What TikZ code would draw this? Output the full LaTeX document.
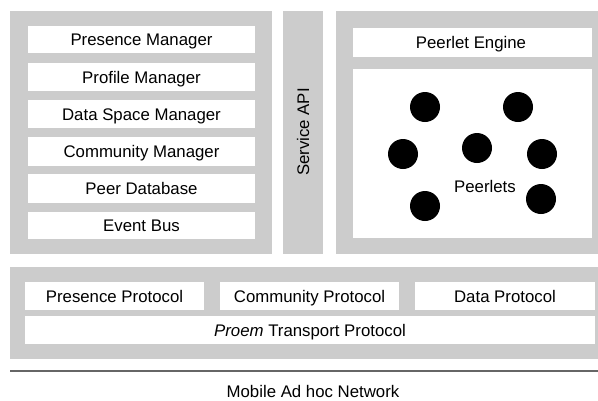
\documentclass[tikz,border=0pt]{standalone}
\usepackage{fontspec}
\setmainfont{Liberation Sans}
\definecolor{panelgray}{HTML}{CCCCCC}
\begin{document}
\begin{tikzpicture}[x=1pt,y=-1pt,
  panel/.style={fill=panelgray,draw=none},
  wbox/.style={fill=white,draw=none},
  lbl/.style={font=\fontsize{16.8}{19}\selectfont,inner sep=0pt,text height=12pt,text depth=0pt},
  peerlet/.style={circle,fill=black,minimum size=30pt,inner sep=0pt}]
\useasboundingbox (0,0) rectangle (598,400);
% panels
\fill[panel] (10,11) rectangle (272,254);
\fill[panel] (283,11) rectangle (323,254);
\fill[panel] (336,11) rectangle (598,254);
\fill[panel] (10,267) rectangle (598,359);
% left boxes
\fill[wbox] (28,26) rectangle (255,53);
\node[lbl] (pm) at (141.5,39.5) {Presence Manager};
\fill[wbox] (28,63) rectangle (255,91);
\node[lbl] (prm) at (141.5,77) {Profile Manager};
\fill[wbox] (28,100) rectangle (255,128);
\node[lbl] (dsm) at (141.5,114) {Data Space Manager};
\fill[wbox] (28,137) rectangle (255,166);
\node[lbl] (cm) at (141.5,151.5) {Community Manager};
\fill[wbox] (28,174) rectangle (255,203);
\node[lbl] (pdb) at (141.5,188.5) {Peer Database};
\fill[wbox] (28,212) rectangle (255,239);
\node[lbl] (eb) at (141.5,225.5) {Event Bus};
% service api
\node[lbl,rotate=90] (api) at (303,132) {Service API};
% right
\fill[wbox] (353,28) rectangle (592,57);
\node[lbl] (pe) at (471,42.5) {Peerlet Engine};
\fill[wbox] (353,69) rectangle (592,238);
\node[peerlet] (c1) at (425,107) {};
\node[peerlet] (c2) at (518,107) {};
\node[peerlet] (c3) at (403,154) {};
\node[peerlet] (c4) at (477,148) {};
\node[peerlet] (c5) at (542,154) {};
\node[peerlet] (c6) at (425,206) {};
\node[peerlet] (c7) at (541,199) {};
\node[lbl] (pl) at (485,186) {Peerlets};
% bottom
\fill[wbox] (25,282) rectangle (204,310);
\node[lbl] (pp) at (114.5,296) {Presence Protocol};
\fill[wbox] (220,282) rectangle (399,310);
\node[lbl] (cp) at (309.5,296) {Community Protocol};
\fill[wbox] (415,282) rectangle (595,310);
\node[lbl] (dp) at (505,296) {Data Protocol};
\fill[wbox] (25,316) rectangle (595,344);
\node[lbl] (tp) at (310,330) {\textit{Proem} Transport Protocol};
% network line
\coordinate (la) at (10,371);
\coordinate (lb) at (598,371);
\draw[line width=1.3pt,draw=black!60] (la) -- (lb);
\node[lbl] (net) at (313,391.5) {Mobile Ad hoc Network};
\end{tikzpicture}
\end{document}
